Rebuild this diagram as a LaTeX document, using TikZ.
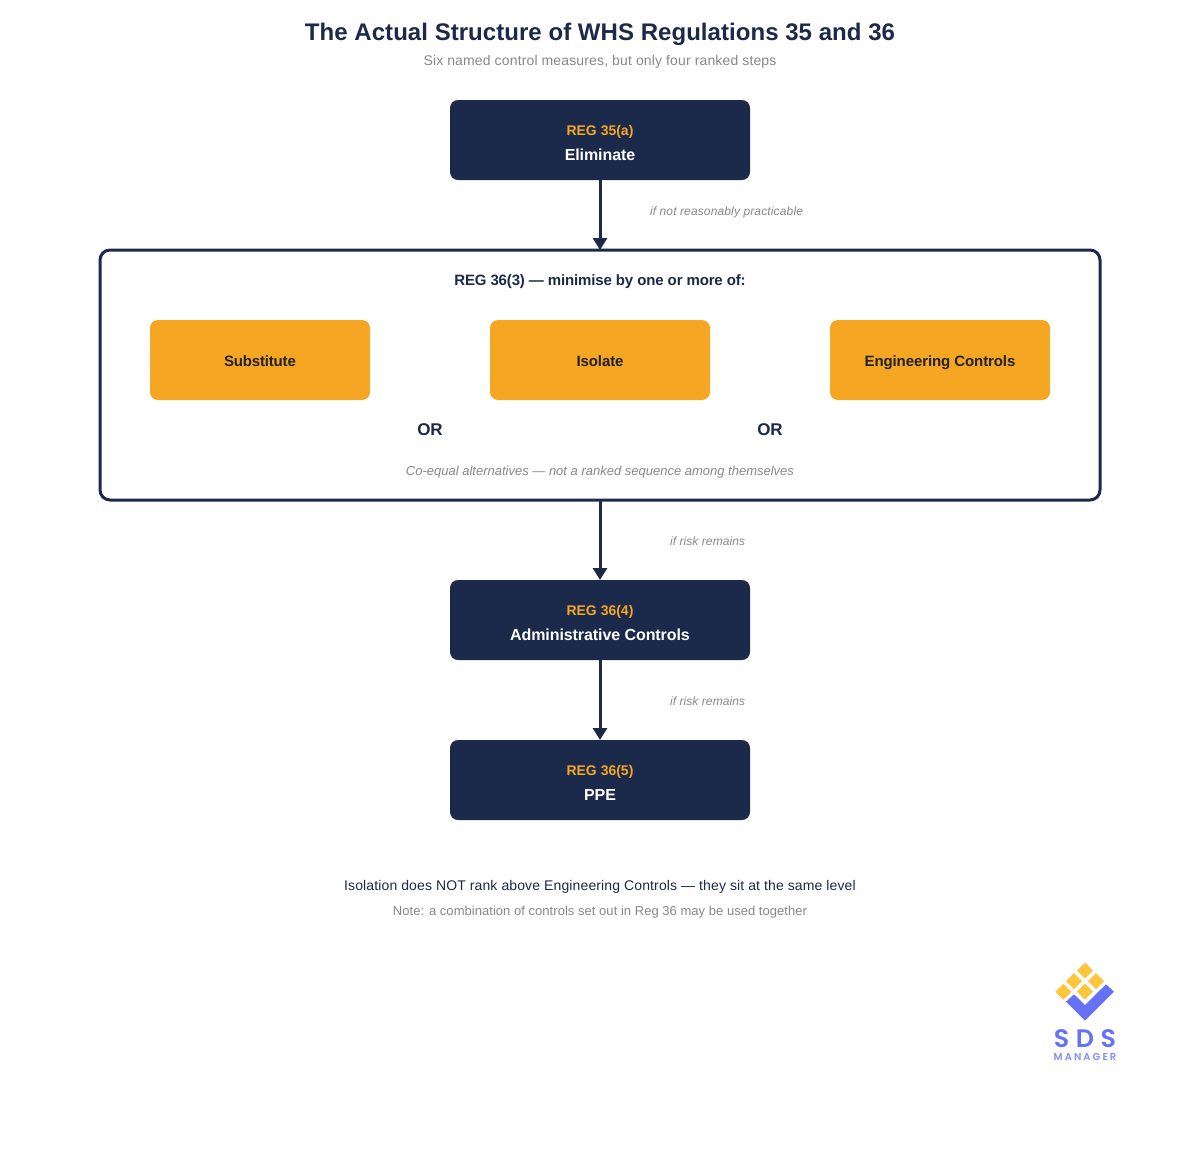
\documentclass[tikz,border=0pt]{standalone}
\usepackage{fontspec}
\setmainfont{Liberation Sans}
\newfontfamily\logofont[LetterSpace=26]{Poppins SemiBold}
\newfontfamily\logosmall[LetterSpace=21]{Poppins SemiBold}
\usetikzlibrary{arrows.meta}
\definecolor{navy}{HTML}{1B2A4A}
\definecolor{amber}{HTML}{F5A623}
\definecolor{greytxt}{HTML}{888888}
\definecolor{ink}{HTML}{222222}
\definecolor{logoblue}{HTML}{6672F5}
\definecolor{logoyellow}{HTML}{FFC53D}
\newcommand{\lsp}[1]{\addfontfeature{LetterSpace=#1}}
\tikzset{
  txt/.style={inner sep=0pt,outer sep=0pt,anchor=base,align=center},
  navybox/.style={fill=navy,rounded corners=6pt,minimum width=225pt,minimum height=60pt,inner sep=0pt,outer sep=0pt},
  amberbox/.style={fill=amber,rounded corners=6pt,minimum width=165pt,minimum height=60pt,inner sep=0pt,outer sep=0pt,text height=9pt,text depth=0pt,font=\fontsize{11.25pt}{13pt}\selectfont\bfseries,text=ink},
  groupbox/.style={draw=navy,line width=2.25pt,fill=white,rounded corners=7.5pt,minimum width=750pt,minimum height=187.5pt,inner sep=0pt,outer sep=0pt},
  flow/.style={draw=navy,line width=2.25pt,-{Triangle[length=9pt,width=10.5pt]}},
  reglabel/.style={txt,text=amber,font=\fontsize{10.5pt}{12pt}\selectfont\bfseries},
  steplabel/.style={txt,text=white,font=\fontsize{12pt}{14pt}\selectfont\bfseries\lsp{-0.5}},
  condlabel/.style={txt,anchor=base west,text=greytxt,font=\fontsize{9pt}{11pt}\selectfont\itshape\lsp{0.8}},
  orlabel/.style={txt,text=navy,font=\fontsize{12.75pt}{15pt}\selectfont\bfseries},
  logomark/.style={fill=logoyellow,draw=none}
}
\begin{document}
\begin{tikzpicture}[x=0.75pt,y=-0.75pt]
\useasboundingbox[fill=white] (0,0) rectangle (1200,1150);

\node[txt,text=navy,font=\fontsize{18pt}{22pt}\selectfont\bfseries\lsp{0.2}] (title) at (600,40) {The Actual Structure of WHS Regulations 35 and 36};
\node[txt,text=greytxt,font=\fontsize{10.5pt}{12pt}\selectfont\lsp{1.05}] (sub) at (600,65) {Six named control measures, but only four ranked steps};

\node[groupbox] (group) at (600,375) {};
\node[navybox] (elim) at (600,140) {};
\node[navybox] (admin) at (600,620) {};
\node[navybox] (ppe) at (600,780) {};

\node[reglabel] (r1) at (600,135) {REG 35(a)};
\node[steplabel] (s1) at (600,160) {Eliminate};
\node[reglabel] (r2) at (600,615) {REG 36(4)};
\node[steplabel] (s2) at (600,640) {Administrative Controls};
\node[reglabel] (r3) at (600,775) {REG 36(5)};
\node[steplabel] (s3) at (600,800) {PPE};

\node[txt,text=navy,font=\fontsize{11.25pt}{13pt}\selectfont\bfseries\lsp{-1}] (gt) at (600,285) {REG 36(3) — minimise by one or more of:};
\node[amberbox,font=\fontsize{11.25pt}{13pt}\selectfont\bfseries\lsp{-1.2}] (sub1) at (260,360) {Substitute};
\node[amberbox,font=\fontsize{11.25pt}{13pt}\selectfont\bfseries\lsp{-0.6}] (iso) at (600,360) {Isolate};
\node[amberbox,font=\fontsize{11.25pt}{13pt}\selectfont\bfseries\lsp{-0.65}] (eng) at (940,360) {Engineering Controls};
\node[orlabel] (or1) at (430,435) {OR};
\node[orlabel] (or2) at (770,435) {OR};
\node[txt,text=greytxt,font=\fontsize{9.75pt}{12pt}\selectfont\itshape] (gn) at (600,475) {Co-equal alternatives — not a ranked sequence among themselves};

\draw[flow] (elim.south) -- (group.north);
\draw[flow] (group.south) -- (admin.north);
\draw[flow] (admin.south) -- (ppe.north);

\node[condlabel,font=\fontsize{9pt}{11pt}\selectfont\itshape\lsp{1.2}] (c1) at (650,215) {if not reasonably practicable};
\node[condlabel] (c2) at (670,545) {if risk remains};
\node[condlabel] (c3) at (670,705) {if risk remains};

\node[txt,text=navy,font=\fontsize{10.5pt}{12pt}\selectfont\lsp{0.9}] (n1) at (600,890) {Isolation does NOT rank above Engineering Controls — they sit at the same level};
\node[txt,text=greytxt,font=\fontsize{9.75pt}{12pt}\selectfont\lsp{0.33}] (n2) at (600,915) {Note: a combination of controls set out in Reg 36 may be used together};

% logo
\foreach \cx/\cy in {1085/970.5,1074/981,1096/981,1063.3/991.7,1085/991.7}
  \fill[logomark] (\cx,\cy-8) -- (\cx+8,\cy) -- (\cx,\cy+8) -- (\cx-8,\cy) -- cycle;
\fill[logoblue] (1066,1001.7) -- (1085,1020.7) -- (1114,991.7) -- (1106,984.3) -- (1085,1005) -- (1074,994.3) -- cycle;
\node[txt,text=logoblue,text height=14pt,text depth=0pt,font=\logofont\fontsize{19pt}{20pt}\selectfont] (sds) at (1085,1047) {SDS};
\node[txt,text=logoblue!80!white,text height=5.5pt,text depth=0pt,font=\logosmall\fontsize{7.5pt}{9pt}\selectfont] (mgr) at (1085,1060) {MANAGER};
\end{tikzpicture}
\end{document}
